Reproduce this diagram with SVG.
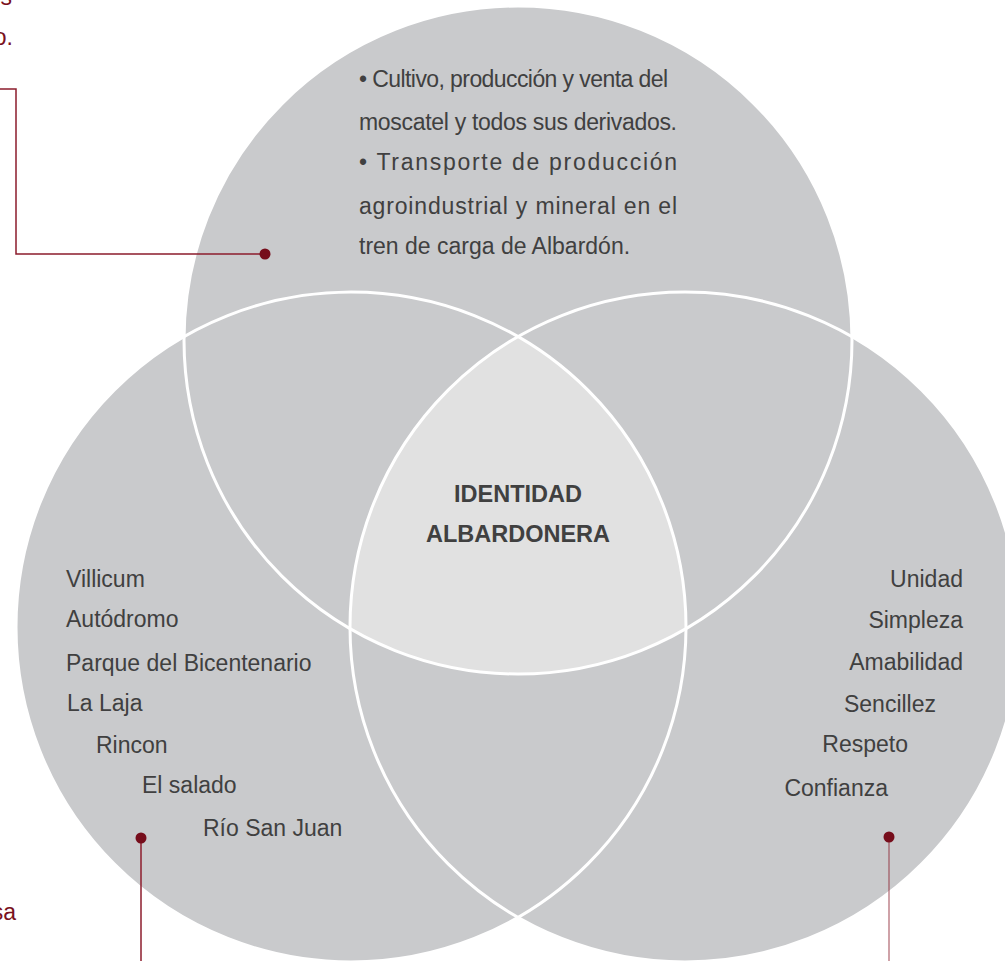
<svg xmlns="http://www.w3.org/2000/svg" width="1005" height="961" viewBox="0 0 1005 961">
  <style>
    .circ { fill: #C9CACC; }
    .ring { fill: none; stroke: #FFFFFF; stroke-width: 3; }
    .lens { fill: #E1E1E1; }
    .txt { font-family: "Liberation Sans", Arial, sans-serif; font-size: 23px; fill: #404040; }
    .bold { font-family: "Liberation Sans", Arial, sans-serif; font-size: 23.5px; font-weight: bold; fill: #404040; }
    .red { font-family: "Liberation Sans", Arial, sans-serif; font-size: 23px; fill: #7A1020; }
    .conn { fill: none; stroke: #8C1D2C; stroke-width: 1.5; }
    .dot { fill: #760D1B; }
  </style>
  <defs>
    <clipPath id="clipLeft"><circle cx="351" cy="627" r="335"/></clipPath>
    <clipPath id="clipRight"><circle cx="685" cy="627" r="335"/></clipPath>
  </defs>
  <rect width="1005" height="961" fill="#FFFFFF"/>

  <!-- clipped side labels -->
  <g id="side-labels">
    <text class="red" x="12" y="5" text-anchor="end">s</text>
    <text class="red" x="13" y="45" text-anchor="end">o.</text>
    <text class="red" x="16" y="920" text-anchor="end">sa</text>
  </g>

  <g id="node-top">
    <circle class="circ" cx="518" cy="340" r="334"/>
  </g>
  <g id="node-left">
    <circle class="circ" cx="351" cy="627" r="335"/>
  </g>
  <g id="node-right">
    <circle class="circ" cx="685" cy="627" r="335"/>
  </g>
  <g id="node-center">
    <g clip-path="url(#clipLeft)">
      <circle class="lens" cx="518" cy="340" r="334" clip-path="url(#clipRight)"/>
    </g>
  </g>
  <g id="rings">
    <circle class="ring" cx="518" cy="340" r="334"/>
    <circle class="ring" cx="351" cy="627" r="335"/>
    <circle class="ring" cx="685" cy="627" r="335"/>
  </g>

  <g id="text-top">
    <text class="txt" x="359" y="87" textLength="309" lengthAdjust="spacing">• Cultivo, producción y venta del</text>
    <text class="txt" x="359" y="130" textLength="318" lengthAdjust="spacing">moscatel y todos sus derivados.</text>
    <text class="txt" x="359" y="170" textLength="318" lengthAdjust="spacing">• Transporte de producción</text>
    <text class="txt" x="359" y="214" textLength="318" lengthAdjust="spacing">agroindustrial y mineral en el</text>
    <text class="txt" x="359" y="254">tren de carga de Albardón.</text>
  </g>

  <g id="text-center">
    <text class="bold" x="518" y="502" text-anchor="middle">IDENTIDAD</text>
    <text class="bold" x="518" y="542" text-anchor="middle">ALBARDONERA</text>
  </g>

  <g id="text-left">
    <text class="txt" x="66" y="587">Villicum</text>
    <text class="txt" x="66" y="627">Autódromo</text>
    <text class="txt" x="66" y="671">Parque del Bicentenario</text>
    <text class="txt" x="67" y="711">La Laja</text>
    <text class="txt" x="96" y="753">Rincon</text>
    <text class="txt" x="142" y="793">El salado</text>
    <text class="txt" x="203" y="836">Río San Juan</text>
  </g>

  <g id="text-right">
    <text class="txt" x="963" y="587" text-anchor="end">Unidad</text>
    <text class="txt" x="963" y="628" text-anchor="end">Simpleza</text>
    <text class="txt" x="963" y="670" text-anchor="end">Amabilidad</text>
    <text class="txt" x="936" y="712" text-anchor="end">Sencillez</text>
    <text class="txt" x="908" y="752" text-anchor="end">Respeto</text>
    <text class="txt" x="888" y="796" text-anchor="end">Confianza</text>
  </g>

  <g id="connectors">
    <polyline class="conn" points="265,254 16,254 16,89 0,89"/>
    <line class="conn" x1="141" y1="838" x2="141" y2="961"/>
    <line class="conn" x1="889" y1="837" x2="889" y2="961" stroke-opacity="0.55"/>
    <circle class="dot" cx="265" cy="254" r="5.5"/>
    <circle class="dot" cx="141" cy="838" r="5.5"/>
    <circle class="dot" cx="889" cy="837" r="5.5"/>
  </g>
</svg>
